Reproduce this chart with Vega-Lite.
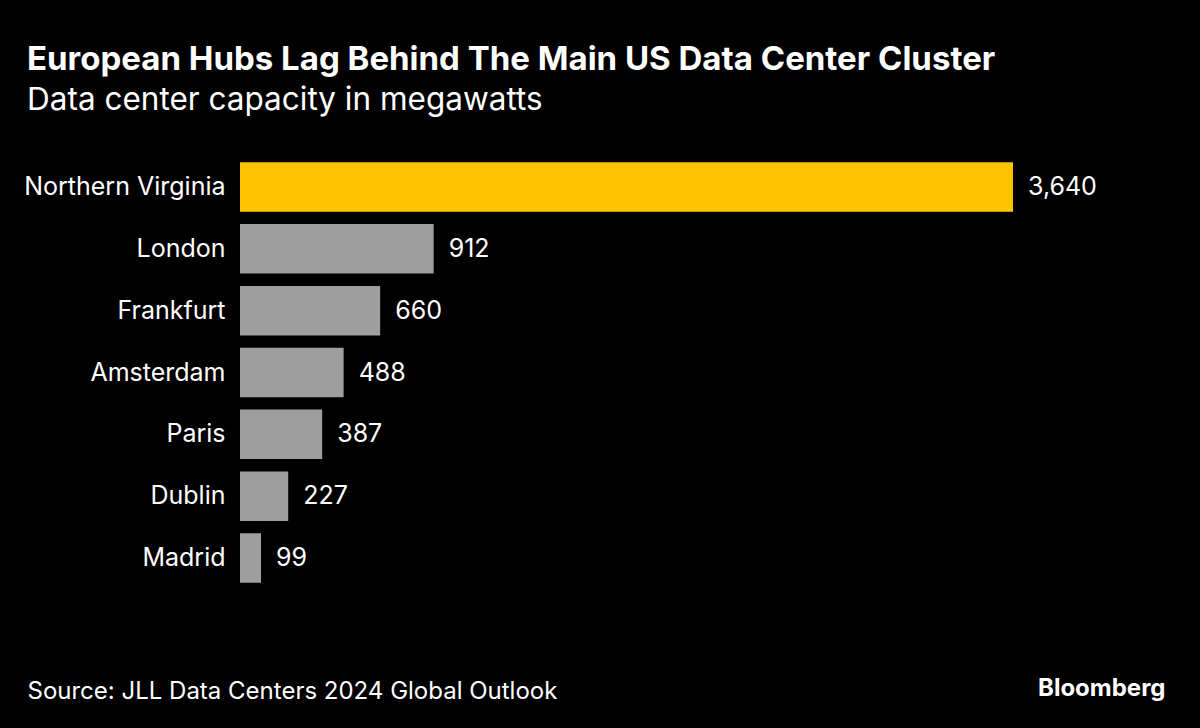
{
  "$schema": "https://vega.github.io/schema/vega-lite/v6.json",
  "autosize": "none",
  "width": 773,
  "height": 433,
  "padding": {"left": 240, "top": 156, "right": 187, "bottom": 139},
  "background": "#000000",
  "config": {"view": {"stroke": null}, "font": "Inter"},
  "title": {
    "text": "European Hubs Lag Behind The Main US Data Center Cluster",
    "subtitle": "Data center capacity in megawatts",
    "anchor": "start",
    "frame": "group",
    "dx": -213,
    "offset": 40,
    "font": "Inter",
    "fontSize": 33,
    "fontWeight": "bold",
    "color": "#ffffff",
    "subtitleFont": "Inter",
    "subtitleFontSize": 31.5,
    "subtitleColor": "#ffffff",
    "subtitlePadding": 8
  },
  "data": {
    "values": [
      {"city": "Northern Virginia", "mw": 3640},
      {"city": "London", "mw": 912},
      {"city": "Frankfurt", "mw": 660},
      {"city": "Amsterdam", "mw": 488},
      {"city": "Paris", "mw": 387},
      {"city": "Dublin", "mw": 227},
      {"city": "Madrid", "mw": 99}
    ]
  },
  "encoding": {
    "y": {
      "field": "city",
      "type": "nominal",
      "sort": null,
      "scale": {"paddingInner": 0.2, "paddingOuter": 0.1},
      "axis": {
        "title": "Bloomberg",
        "titleAngle": 0,
        "titleX": 925,
        "titleY": 539,
        "titleAlign": "right",
        "titleBaseline": "alphabetic",
        "titleFont": "Inter",
        "titleFontSize": 24,
        "titleFontWeight": "bold",
        "titleColor": "#ffffff",
        "domain": false,
        "ticks": false,
        "labelPadding": 15,
        "labelLimit": 400,
        "labelFontSize": 25,
        "labelColor": "#ffffff",
        "labelFont": "Inter"
      }
    },
    "x": {
      "field": "mw",
      "type": "quantitative",
      "scale": {"domain": [0, 3640]},
      "axis": {
        "title": "Source: JLL Data Centers 2024 Global Outlook",
        "titleX": -213,
        "titleY": 109,
        "titleAnchor": "start",
        "titleAlign": "left",
        "titleBaseline": "alphabetic",
        "titleFont": "Inter",
        "titleFontSize": 24,
        "titleFontWeight": "normal",
        "titleColor": "#ffffff",
        "labels": false,
        "ticks": false,
        "domain": false,
        "grid": false
      }
    }
  },
  "layer": [
    {
      "mark": {"type": "bar"},
      "encoding": {
        "color": {
          "condition": {"test": "datum.city === 'Northern Virginia'", "value": "#FFC400"},
          "value": "#9E9E9E"
        }
      }
    },
    {
      "mark": {"type": "text", "align": "left", "dx": 15, "fontSize": 25, "color": "#ffffff", "font": "Inter"},
      "encoding": {
        "text": {"field": "mw", "type": "quantitative", "format": ","}
      }
    }
  ]
}
